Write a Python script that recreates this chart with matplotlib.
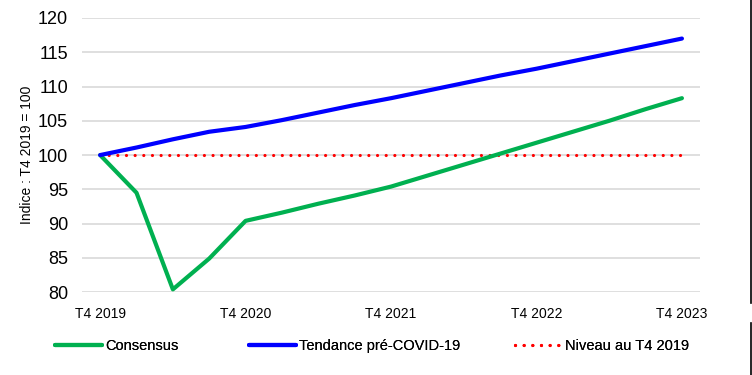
import matplotlib
matplotlib.use("Agg")
import matplotlib.pyplot as plt
from matplotlib.lines import Line2D

plt.rcParams['font.family'] = ['Liberation Sans', 'DejaVu Sans']

quarters = ["T4 2019", "T1 2020", "T2 2020", "T3 2020", "T4 2020",
            "T1 2021", "T2 2021", "T3 2021", "T4 2021",
            "T1 2022", "T2 2022", "T3 2022", "T4 2022",
            "T1 2023", "T2 2023", "T3 2023", "T4 2023"]
tick_labels = ["T4 2019", "T4 2020", "T4 2021", "T4 2022", "T4 2023"]
consensus = [100.0, 94.5, 80.4, 84.9, 90.4, 91.6, 92.9, 94.1, 95.4,
             97.0, 98.6, 100.2, 101.8, 103.4, 105.0, 106.7, 108.3]
tendance = [100.0, 101.1, 102.3, 103.4, 104.1, 105.1, 106.2, 107.3, 108.3,
            109.4, 110.5, 111.6, 112.6, 113.7, 114.8, 115.9, 117.0]
niveau = [100.0] * 17

fig = plt.figure(figsize=(7.52, 3.75), dpi=100)
ax = fig.add_axes([0.109, 0.221, 0.822, 0.731])

x = list(range(len(quarters)))
l1, = ax.plot(x, consensus, color="#00B050", lw=3.0, label="Consensus", solid_capstyle="round", zorder=3)
l2, = ax.plot(x, tendance, color="#0000FF", lw=3.0, label="Tendance pré-COVID-19", solid_capstyle="round", zorder=3)
l3, = ax.plot(x, niveau, color="#FF0000", lw=2.3, linestyle=(0, (0.01, 2.7)), dash_capstyle="round",
              label="Niveau au T4 2019", zorder=2)

ax.set_xlim(-0.5, len(quarters) - 0.5)
ax.set_ylim(80, 120)
ax.set_yticks(range(80, 121, 5))
ax.set_xticks([quarters.index(t) for t in tick_labels])
ax.set_xticklabels(tick_labels, fontsize=10)
ax.tick_params(axis='y', labelsize=13, length=0, pad=10)
ax.tick_params(axis='x', length=0, pad=11)
ax.grid(axis='y', color="#D9D9D9", lw=1.2)
ax.set_axisbelow(True)
for s in ax.spines.values():
    s.set_visible(False)
ax.set_ylabel("Indice : T4 2019 = 100", fontsize=10, labelpad=3)

legend_x = [55, 249, 515]
for handle, lx in zip([l1, l2, l3], legend_x):
    lg = fig.legend(handles=[handle], loc="center left", bbox_to_anchor=(lx / 752, 1 - 346 / 375),
                    frameon=False, fontsize=10.5, handlelength=3.2, handletextpad=0.25,
                    borderpad=0, borderaxespad=0)
    fig.add_artist(lg)

fig.add_artist(Line2D([0.9985, 0.9985], [1 - 303 / 375, 1.0], color="black", lw=1.2))
fig.add_artist(Line2D([0.9985, 0.9985], [0.0, 1 - 323 / 375], color="black", lw=1.2))

fig.savefig("out.png", dpi=100)
